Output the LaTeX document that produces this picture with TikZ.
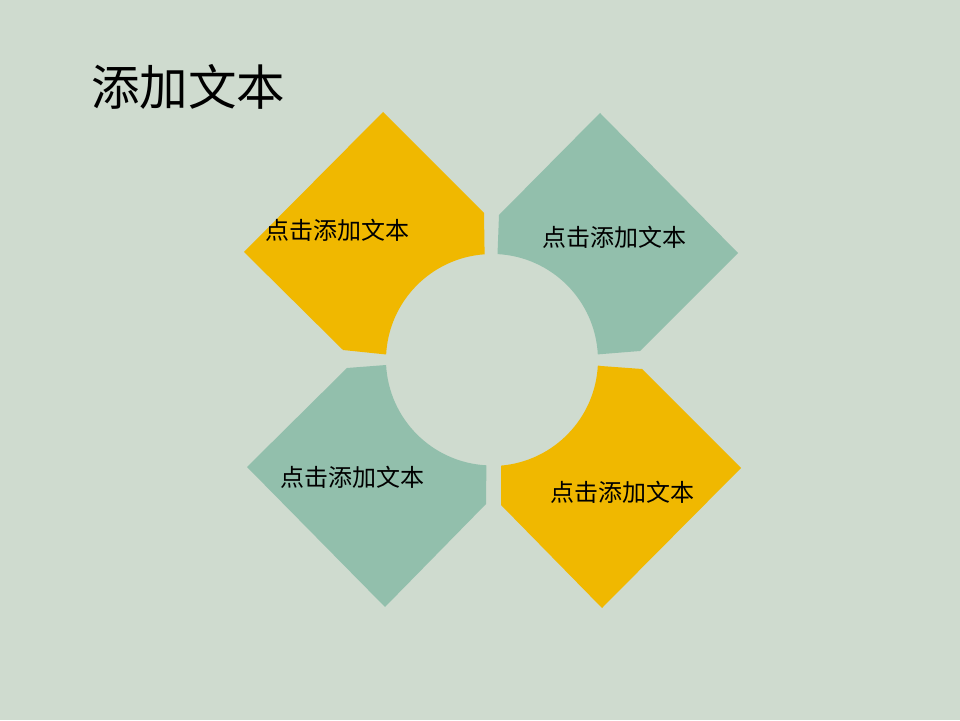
\documentclass[tikz,border=0pt]{standalone}
\usepackage{fontspec}
\newfontfamily\cjk{Noto Sans CJK SC}
\definecolor{bgc}{RGB}{207,219,207}
\definecolor{ylw}{RGB}{240,184,0}
\definecolor{grn}{RGB}{146,191,172}
\tikzset{
  petal/.style={draw=none},
  lbl/.style={font=\cjk\fontsize{24}{28}\selectfont, inner sep=0pt, text=black},
  ttl/.style={font=\cjk\fontsize{48.5}{54}\selectfont, inner sep=0pt, text=black}
}
\begin{document}
\begin{tikzpicture}[x=1pt,y=1pt]
\fill[bgc] (0,0) rectangle (960,720);
\useasboundingbox (0,0) rectangle (960,720);
% top-left (yellow)
\fill[ylw] (383,608) -- (484,507) -- (484.6,465.7) arc[start angle=94, end angle=177, radius=106] -- (343,370) -- (244,468) -- cycle;
% top-right (green)
\fill[grn] (600,607) -- (499,505) -- (497.5,465.9) arc[start angle=87, end angle=3, radius=106] -- (640,369) -- (738,467) -- cycle;
% bottom-left (green)
\fill[grn] (347,352) -- (386.1,355) arc[start angle=183, end angle=267, radius=106] -- (486,216) -- (385,113) -- (247,253) -- cycle;
% bottom-right (yellow)
\fill[ylw] (601,354) -- (642,351) -- (741,252) -- (602,112) -- (501,215) -- (501.2,254.4) arc[start angle=275, end angle=357, radius=106] -- cycle;
\node[ttl] (title) at (188,633) {添加文本};
\node[lbl] (t1) at (337,490) {点击添加文本};
\node[lbl] (t2) at (614,483) {点击添加文本};
\node[lbl] (t3) at (352,243) {点击添加文本};
\node[lbl] (t4) at (622,228) {点击添加文本};
\end{tikzpicture}
\end{document}
